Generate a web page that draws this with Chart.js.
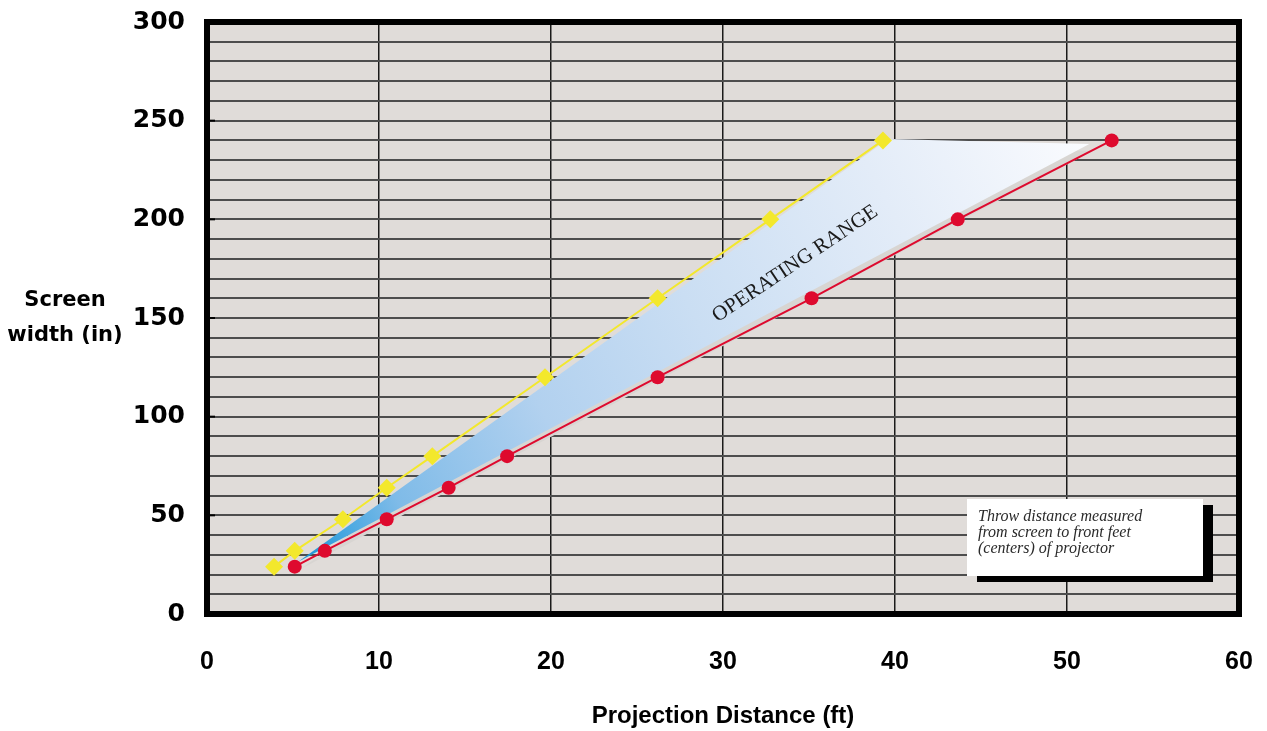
<!DOCTYPE html>
<html>
<head>
<meta charset="utf-8">
<title>Projection distance vs screen width</title>
<script src="https://cdn.jsdelivr.net/npm/chart.js@4.4.1/dist/chart.umd.min.js"></script>
<style>
  html, body { margin: 0; padding: 0; background: #fff; }
  #chart { display: block; }
</style>
</head>
<body>
<canvas id="chart" width="1267" height="731"></canvas>
<script>
// Screen widths (in) and the throw distances (ft)
const screenWidths = [24, 32, 48, 64, 80, 120, 160, 200, 240];
const minDistance = [3.9, 5.1, 7.9, 10.45, 13.1, 19.65, 26.2, 32.75, 39.3];
const maxDistance = [5.1, 6.85, 10.45, 14.05, 17.45, 26.2, 35.15, 43.65, 52.6];

// Shaded "operating range" wedge (ft, in)
const rangeX = [5.3, 39.6, 51.3];
const rangeY = [26.5, 240.7, 238.2];
const rangeLabel = "OPERATING RANGE";
const rangeLabelAt = { x: 34.2, y: 177.4 };

// Axes
const xMin = 0, xMax = 60, xStep = 10;
const yMin = 0, yMax = 300, yStep = 10, yLabelEvery = 50;
const xTitle = "Projection Distance (ft)";
const yTitleLines = ["Screen", "width (in)"];

const noteLines = [
    "Throw distance measured",
    "from screen to front feet",
    "(centers) of projector",
];

const PLOT_BG = "#e0dcd9";
const YELLOW = "#f3e82c";
const RED = "#de0a2e";

function toPoints(xs, ys) {
    return xs.map((x, i) => ({ x: x, y: ys[i] }));
}

const rangePlugin = {
    id: "operatingRange",
    beforeDraw(chart) {
        const { ctx, chartArea: a } = chart;
        ctx.save();
        ctx.fillStyle = PLOT_BG;
        ctx.fillRect(a.left, a.top, a.right - a.left, a.bottom - a.top);
        ctx.restore();
    },
    beforeDatasetsDraw(chart) {
        const { ctx, scales: { x, y } } = chart;
        const pts = rangeX.map((v, i) => [x.getPixelForValue(v), y.getPixelForValue(rangeY[i])]);

        ctx.save();
        // drop shadow under the wedge
        ctx.beginPath();
        pts.forEach(([px, py], i) => i ? ctx.lineTo(px + 3, py + 7) : ctx.moveTo(px + 3, py + 7));
        ctx.closePath();
        ctx.fillStyle = "#d8d5d2";
        ctx.fill();

        // wedge with blue-to-white gradient
        const g = ctx.createLinearGradient(pts[0][0], pts[0][1], pts[2][0], pts[2][1]);
        g.addColorStop(0, "#1593d6");
        g.addColorStop(0.07, "#4eaae2");
        g.addColorStop(0.13, "#7fbbe8");
        g.addColorStop(0.32, "#b2d1ef");
        g.addColorStop(0.52, "#cadef3");
        g.addColorStop(0.77, "#e3ecf8");
        g.addColorStop(1, "#fafbfe");
        ctx.beginPath();
        pts.forEach(([px, py], i) => i ? ctx.lineTo(px, py) : ctx.moveTo(px, py));
        ctx.closePath();
        ctx.fillStyle = g;
        ctx.fill();

        // label along the wedge
        ctx.translate(x.getPixelForValue(rangeLabelAt.x), y.getPixelForValue(rangeLabelAt.y));
        ctx.rotate(-33.8 * Math.PI / 180);
        ctx.font = "21px 'Liberation Serif', 'DejaVu Serif', serif";
        ctx.fillStyle = "#1a1a1a";
        ctx.textAlign = "center";
        ctx.textBaseline = "middle";
        ctx.fillText(rangeLabel, 0, 0);
        ctx.restore();
    },
    afterDatasetsDraw(chart) {
        const { ctx, chartArea: a, scales: { y } } = chart;
        ctx.save();

        // thick frame round the plot, with short ticks at the labelled rows
        ctx.strokeStyle = "#000";
        ctx.lineWidth = 6;
        ctx.strokeRect(a.left, a.top, a.right - a.left, a.bottom - a.top);
        ctx.lineWidth = 2;
        for (let v = yMin + yLabelEvery; v < yMax; v += yLabelEvery) {
            const py = y.getPixelForValue(v);
            ctx.beginPath();
            ctx.moveTo(a.left, py);
            ctx.lineTo(a.left + 8, py);
            ctx.stroke();
        }

        // note box with black drop shadow
        const bx = a.right - 272, by = a.bottom - 115, bw = 236, bh = 77;
        ctx.fillStyle = "#000";
        ctx.fillRect(bx + 10, by + 6, bw, bh);
        ctx.fillStyle = "#fff";
        ctx.fillRect(bx, by, bw, bh);
        ctx.font = "italic 16px 'Liberation Serif', 'DejaVu Serif', serif";
        ctx.fillStyle = "#2a2a2a";
        ctx.textAlign = "left";
        ctx.textBaseline = "alphabetic";
        noteLines.forEach((t, i) => ctx.fillText(t, bx + 11, by + 22 + i * 16));

        // horizontal y-axis title
        ctx.font = "bold 21px 'DejaVu Sans', sans-serif";
        ctx.fillStyle = "#000";
        ctx.textAlign = "center";
        ctx.textBaseline = "middle";
        yTitleLines.forEach((t, i) => ctx.fillText(t, 65, 301 + i * 35));
        ctx.restore();
    },
};

const ctx = document.getElementById("chart").getContext("2d");
new Chart(ctx, {
    type: "scatter",
    data: {
        datasets: [
            {
                label: "Minimum distance",
                data: toPoints(minDistance, screenWidths),
                showLine: true,
                borderColor: YELLOW,
                backgroundColor: YELLOW,
                borderWidth: 2,
                pointStyle: "rectRot",
                pointRadius: 9,
                pointBorderWidth: 0,
            },
            {
                label: "Maximum distance",
                data: toPoints(maxDistance, screenWidths),
                showLine: true,
                borderColor: RED,
                backgroundColor: RED,
                borderWidth: 2,
                pointStyle: "circle",
                pointRadius: 7,
                pointBorderWidth: 0,
            },
        ],
    },
    options: {
        responsive: false,
        animation: false,
        devicePixelRatio: 1,
        layout: { padding: { top: 22, right: 28, left: 0, bottom: 0 } },
        plugins: {
            legend: { display: false },
            tooltip: { enabled: false },
        },
        scales: {
            x: {
                type: "linear",
                min: xMin,
                max: xMax,
                ticks: {
                    stepSize: xStep,
                    padding: 33,
                    color: "#000",
                    font: { family: "'Liberation Sans', Arial, sans-serif", weight: "bold", size: 25 },
                },
                grid: { color: "#1a1a1a", lineWidth: 1.5, drawTicks: false },
                border: { display: false },
                title: {
                    display: true,
                    text: xTitle,
                    color: "#000",
                    font: { family: "'Liberation Sans', Arial, sans-serif", weight: "bold", size: 24 },
                    padding: { top: 0, bottom: 0 },
                },
                afterFit: (s) => {
                    s.height = 117;
                    s.paddingLeft = 0;
                    s.paddingRight = 0;
                },
            },
            y: {
                type: "linear",
                min: yMin,
                max: yMax,
                ticks: {
                    stepSize: yStep,
                    autoSkip: false,
                    padding: 22,
                    color: "#000",
                    font: { family: "'DejaVu Sans', sans-serif", weight: "bold", size: 25 },
                    callback: (v) => (v % yLabelEvery === 0 ? v : ""),
                },
                grid: { color: "#4d4d4d", lineWidth: 2, drawTicks: false },
                border: { display: false },
                afterFit: (s) => {
                    s.width = 207;
                    s.paddingTop = 0;
                    s.paddingBottom = 0;
                },
            },
        },
    },
    plugins: [rangePlugin],
});
</script>
</body>
</html>
